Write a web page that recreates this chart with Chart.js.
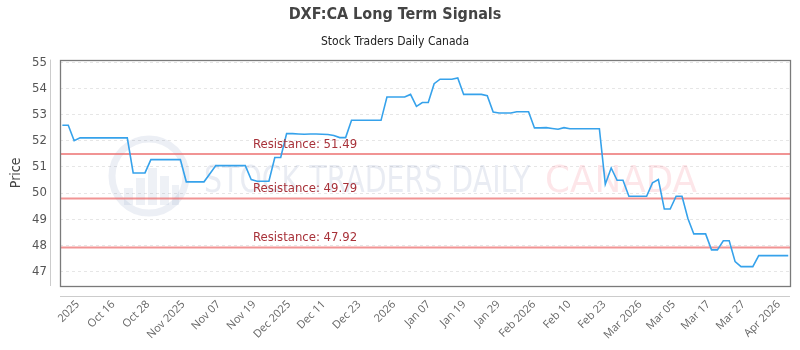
<!DOCTYPE html>
<html>
<head>
<meta charset="utf-8">
<script src="https://cdn.jsdelivr.net/npm/chart.js@4.4.1/dist/chart.umd.min.js"></script>
<style>
html, body { margin: 0; padding: 0; background: #fff; }
#wrap { width: 800px; height: 350px; }
</style>
</head>
<body>
<div id="wrap"><canvas id="chart" width="800" height="350"></canvas></div>
<script>
// price per session
const prices = [
  52.59, 52.59, 52.00, 52.11, 52.11, 52.11, 52.11, 52.11, 52.11, 52.11,
  52.11, 52.11, 50.77, 50.77, 50.77, 51.28, 51.28, 51.28, 51.28, 51.28,
  51.28, 50.43, 50.43, 50.43, 50.43, 50.74, 51.05, 51.05, 51.05, 51.05,
  51.05, 51.05, 50.52, 50.45, 50.45, 50.45, 51.36, 51.36, 52.27, 52.27,
  52.26, 52.25, 52.26, 52.26, 52.25, 52.24, 52.20, 52.12, 52.12, 52.78,
  52.78, 52.78, 52.78, 52.78, 52.78, 53.67, 53.67, 53.67, 53.67, 53.77,
  53.31, 53.46, 53.46, 54.18, 54.35, 54.35, 54.35, 54.40, 53.77, 53.77,
  53.77, 53.77, 53.72, 53.10, 53.06, 53.06, 53.06, 53.11, 53.11, 53.11,
  52.49, 52.49, 52.50, 52.47, 52.44, 52.50, 52.46, 52.46, 52.46, 52.46,
  52.46, 52.46, 50.34, 50.96, 50.49, 50.49, 49.88, 49.88, 49.88, 49.88,
  50.39, 50.52, 49.39, 49.39, 49.88, 49.88, 49.03, 48.44, 48.44, 48.44,
  47.83, 47.83, 48.18, 48.18, 47.38, 47.19, 47.19, 47.19, 47.61, 47.61,
  47.61, 47.61, 47.61, 47.61
];

const tickLabels = ['2025', 'Oct 16', 'Oct 28', 'Nov 2025', 'Nov 07', 'Nov 19', 'Dec 2025',
  'Dec 11', 'Dec 23', '2026', 'Jan 07', 'Jan 19', 'Jan 29', 'Feb 2026', 'Feb 10', 'Feb 23',
  'Mar 2026', 'Mar 05', 'Mar 17', 'Mar 27', 'Apr 2026'];
// where each label sits, in session units
const tickAt = [2.6, 8.6, 14.5, 20.5, 26.5, 32.5, 38.4, 44.3, 50.3, 56.2, 62.1,
  68.1, 73.9, 79.9, 85.9, 91.8, 97.9, 103.6, 109.5, 115.4, 121.4];

const resistance = [51.49, 49.79, 47.92];
const resistLabelAt = 32.3;

const xMin = -0.4, xMax = 123.3;
const yMin = 46.45, yMax = 55.1;

const narrow = '"Liberation Sans Narrow", "DejaVu Sans Condensed", sans-serif';

const priceData = prices.map((p, i) => ({ x: i, y: p }));

const datasets = resistance.map(r => ({
  label: 'Resistance: ' + r.toFixed(2),
  data: [{ x: xMin, y: r }, { x: xMax, y: r }],
  borderColor: 'rgba(236,112,112,0.75)',
  borderWidth: 2,
  pointRadius: 0,
  order: 2
}));
datasets.push({
  label: 'Price',
  data: priceData,
  borderColor: 'rgb(54,162,235)',
  borderWidth: 1.6,
  pointRadius: 0,
  tension: 0,
  order: 1
});

function fitText(ctx, text, x, y, w, font, color) {
  ctx.save();
  ctx.font = font;
  const m = ctx.measureText(text).width;
  ctx.translate(x, y);
  ctx.scale(w / m, 1);
  ctx.fillStyle = color;
  ctx.fillText(text, 0, 0);
  ctx.restore();
}

const watermark = {
  id: 'watermark',
  beforeDatasetsDraw(chart) {
    const ctx = chart.ctx;
    ctx.save();
    ctx.strokeStyle = 'rgba(70,100,160,0.10)';
    ctx.lineWidth = 7;
    ctx.beginPath();
    ctx.arc(149, 176, 37, 0, Math.PI * 2);
    ctx.stroke();
    ctx.fillStyle = 'rgba(70,100,160,0.09)';
    [[124, 188, 9, 17], [136, 178, 9, 27], [148, 168, 9, 37], [160, 176, 9, 29], [172, 185, 7, 20]]
      .forEach(b => ctx.fillRect(b[0], b[1], b[2], b[3]));
    ctx.restore();
    fitText(ctx, 'STOCK TRADERS DAILY', 204, 192, 326, '38px "DejaVu Sans"', 'rgba(70,100,160,0.12)');
    fitText(ctx, 'CANADA', 545, 192, 152, '38px "DejaVu Sans"', 'rgba(240,80,100,0.14)');
  }
};

const frame = {
  id: 'frame',
  afterDraw(chart) {
    const ctx = chart.ctx, a = chart.chartArea;
    const xs = chart.scales.x, ys = chart.scales.y;
    ctx.save();
    // resistance labels
    ctx.font = '13px ' + narrow;
    ctx.fillStyle = '#a8323a';
    ctx.textBaseline = 'bottom';
    resistance.forEach(r => {
      ctx.fillText('Resistance: ' + r.toFixed(2), xs.getPixelForValue(resistLabelAt), ys.getPixelForValue(r) - 3);
    });
    // plot box
    ctx.strokeStyle = '#7a7a7a';
    ctx.lineWidth = 1.3;
    ctx.strokeRect(Math.round(a.left) + 0.5, Math.round(a.top) + 0.5, Math.round(a.width), Math.round(a.height));
    // detached axis lines
    ctx.strokeStyle = '#cccccc';
    ctx.lineWidth = 1;
    ctx.beginPath();
    ctx.moveTo(Math.round(a.left) - 9.5, a.top);
    ctx.lineTo(Math.round(a.left) - 9.5, a.bottom);
    ctx.moveTo(a.left, Math.round(a.bottom) + 10.5);
    ctx.lineTo(a.right, Math.round(a.bottom) + 10.5);
    ctx.stroke();
    ctx.restore();
  }
};

new Chart(document.getElementById('chart'), {
  type: 'line',
  data: { datasets: datasets },
  options: {
    responsive: false,
    animation: false,
    layout: { padding: { top: 0, right: 10, left: 0, bottom: 0 } },
    plugins: {
      legend: { display: false },
      tooltip: { enabled: false },
      title: {
        display: true,
        text: 'DXF:CA Long Term Signals',
        color: '#444',
        font: { family: narrow, size: 16, weight: 'bold' },
        padding: { top: 5, bottom: 8 }
      },
      subtitle: {
        display: true,
        text: 'Stock Traders Daily Canada',
        color: '#222',
        font: { family: narrow, size: 12 },
        padding: { top: 2, bottom: 11 }
      }
    },
    scales: {
      x: {
        type: 'linear',
        min: xMin,
        max: xMax,
        afterFit(scale) { scale.height = 64; },
        afterBuildTicks(scale) { scale.ticks = tickAt.map(v => ({ value: v })); },
        border: { display: false },
        grid: { drawOnChartArea: false, tickLength: 10, tickColor: 'rgba(0,0,0,0)' },
        ticks: {
          autoSkip: false,
          maxRotation: 45,
          minRotation: 45,
          padding: 2,
          color: '#666',
          font: { family: '"Open Sans", sans-serif', size: 11 },
          callback(v) {
            const k = tickAt.indexOf(v);
            return k >= 0 ? tickLabels[k] : null;
          }
        }
      },
      y: {
        min: yMin,
        max: yMax,
        afterFit(scale) { scale.width = 60; },
        title: {
          display: true,
          text: 'Price',
          color: '#444',
          font: { family: narrow, size: 14 },
          padding: { top: 8, bottom: 0 }
        },
        grid: {
          color: '#e6e6e6',
          tickColor: 'rgba(0,0,0,0)',
          tickLength: 10
        },
        border: { display: false, dash: [3, 3] },
        ticks: {
          stepSize: 1,
          includeBounds: false,
          padding: 3,
          color: '#555',
          font: { family: narrow, size: 13 }
        }
      }
    }
  },
  plugins: [watermark, frame]
});
</script>
</body>
</html>
